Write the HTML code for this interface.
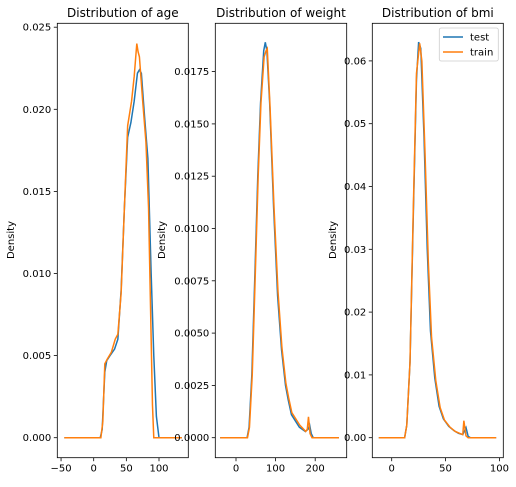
<!DOCTYPE html>
<html><head><meta charset="utf-8"><style>
body{margin:0;background:#fff;font-family:"Liberation Sans","DejaVu Sans",sans-serif;}
svg text{font-family:"DejaVu Sans","Liberation Sans",sans-serif;font-size:10px;fill:#000;}
</style></head><body>
<svg id="c" width="516" height="482"></svg>
<script>
// age
const ageTestX=[-45,0,10,13,17,20,25,32,37,42,47,52,57,62,67,70,73,78,83,88,92,96,100,135];
const ageTestY=[0,0,0,0.0005,0.004,0.0047,0.005,0.0054,0.006,0.009,0.014,0.0183,0.0192,0.0205,0.0222,0.0224,0.0222,0.0195,0.017,0.01,0.005,0.0013,0,0];
const ageTrainX=[-45,0,11,14,17,21,27,33,37,42,47,52,58,62,66,68,70,75,80,84,87,90,92,135];
const ageTrainY=[0,0,0,0.001,0.0045,0.0048,0.0052,0.006,0.0063,0.0088,0.014,0.019,0.0205,0.022,0.024,0.0235,0.0232,0.0205,0.018,0.014,0.008,0.002,0,0];
// weight
const wTestX=[-40,28,33,40,48,55,62,70,74,78,85,95,105,115,125,132,140,150,160,175,182,186,190,195,260];
const wTestY=[0,0,0.0005,0.003,0.008,0.0125,0.016,0.0185,0.0189,0.0185,0.016,0.011,0.0068,0.0042,0.0025,0.0018,0.0011,0.0008,0.0005,0.0003,0.0004,0.0006,0.0002,0,0];
const wTrainX=[-40,29,34,41,49,56,63,71,76,79,86,96,106,116,126,133,141,151,161,176,180,183,187,192,260];
const wTrainY=[0,0,0.0005,0.003,0.008,0.0125,0.016,0.0182,0.0185,0.0186,0.0158,0.011,0.007,0.0043,0.0026,0.0019,0.0012,0.0009,0.0006,0.0003,0.0004,0.001,0.0002,0,0];
// bmi
const bTestX=[-12,12,14,17,20,23,25,27,30,33,36,40,44,48,53,58,62,66,69,71,73,97];
const bTestY=[0,0,0.002,0.012,0.035,0.057,0.063,0.062,0.048,0.03,0.017,0.0095,0.005,0.003,0.0018,0.0011,0.0007,0.0005,0.0016,0.0002,0,0];
const bTrainX=[-12,12,14,17,20,23,26,28,31,34,37,41,45,49,54,59,63,66,67,69,71,97];
const bTrainY=[0,0,0.002,0.012,0.036,0.058,0.0628,0.06,0.045,0.028,0.016,0.009,0.0048,0.0028,0.0017,0.001,0.0007,0.0005,0.0027,0.0003,0,0];
const titles=["Distribution of age","Distribution of weight","Distribution of bmi"];
const ageXTicks=[-50,0,50,100], ageYTicks=[0,0.005,0.01,0.015,0.02,0.025];
const wXTicks=[0,100,200], wYTicks=[0,0.0025,0.005,0.0075,0.01,0.0125,0.015,0.0175];
const bXTicks=[0,50,100], bYTicks=[0,0.01,0.02,0.03,0.04,0.05,0.06];

const NS="http://www.w3.org/2000/svg", svg=document.getElementById('c');
function el(t,a,p){const e=document.createElementNS(NS,t);for(const k in a)e.setAttribute(k,a[k]);(p||svg).appendChild(e);return e;}
const panels=[
 {L:57.3,R:188.3,x0:0,xs:0.653,xz:93.7,ys:82.1/0.005,xt:ageXTicks,yt:ageYTicks,dec:3,s:[[ageTestX,ageTestY],[ageTrainX,ageTrainY]],ylx:14},
 {L:215.3,R:346.7,xs:0.396,xz:236,ys:52.3/0.0025,xt:wXTicks,yt:wYTicks,dec:4,s:[[wTestX,wTestY],[wTrainX,wTrainY]],ylx:165},
 {L:372.3,R:503.3,xs:1.077,xz:391.7,ys:62.8/0.01,xt:bXTicks,yt:bYTicks,dec:2,s:[[bTestX,bTestY],[bTrainX,bTrainY]],ylx:336}
];
const T=23.3,B=457.7,Y0=437.7,cols=["#1f77b4","#ff7f0e"],names=["test","train"];
panels.forEach((p,i)=>{
 const g=el('g',{});
 
 
 const X=v=>p.xz+v*p.xs, Y=v=>Y0-v*p.ys;
 const cp=el('clipPath',{id:'cp'+i},g); el('rect',{x:p.L,y:T,width:p.R-p.L,height:B-T},cp);
 p.s.forEach((s,j)=>{
  const d=s[0].map((x,k)=>(k?'L':'M')+X(x).toFixed(2)+','+Y(s[1][k]).toFixed(2)).join('');
  const pa=el('path',{d:d,fill:'none',stroke:cols[j],'stroke-width':1.5,'clip-path':'url(#cp'+i+')'},g);
  
  
 });
 el('rect',{x:p.L,y:T,width:p.R-p.L,height:B-T,fill:'none',stroke:'#000','stroke-width':0.8},g);
 p.xt.forEach(v=>{const x=X(v);el('line',{x1:x,x2:x,y1:B,y2:B+3.5,stroke:'#000','stroke-width':0.8},g);
  const t=el('text',{x:x,y:B+14,'text-anchor':'middle'},g);t.textContent=v<0?'\u2212'+(-v):v;});
 p.yt.forEach(v=>{const y=Y(v);el('line',{x1:p.L-3.5,x2:p.L,y1:y,y2:y,stroke:'#000','stroke-width':0.8},g);
  const t=el('text',{x:p.L-6,y:y+3.5,'text-anchor':'end'},g);t.textContent=v.toFixed(p.dec);});
 const tt=el('text',{x:(p.L+p.R)/2,y:17,'text-anchor':'middle',style:'font-size:12px'},g);tt.textContent=titles[i];
 
 
 const yl=el('text',{x:p.ylx,y:240,'text-anchor':'middle',transform:'rotate(-90 '+p.ylx+' 240)'},g);yl.textContent='Density';
 
 
});
const lg=el('g',{});


el('rect',{x:439.3,y:28,width:59,height:33,rx:2,fill:'#fff',stroke:'#ccc','stroke-width':0.8},lg);
names.forEach((n,j)=>{const y=37+j*15;
 el('line',{x1:443,x2:463,y1:y,y2:y,stroke:cols[j],'stroke-width':1.5},lg);
 const t=el('text',{x:470,y:y+3.5},lg);t.textContent=n;
 
 });
</script>
</body></html>
